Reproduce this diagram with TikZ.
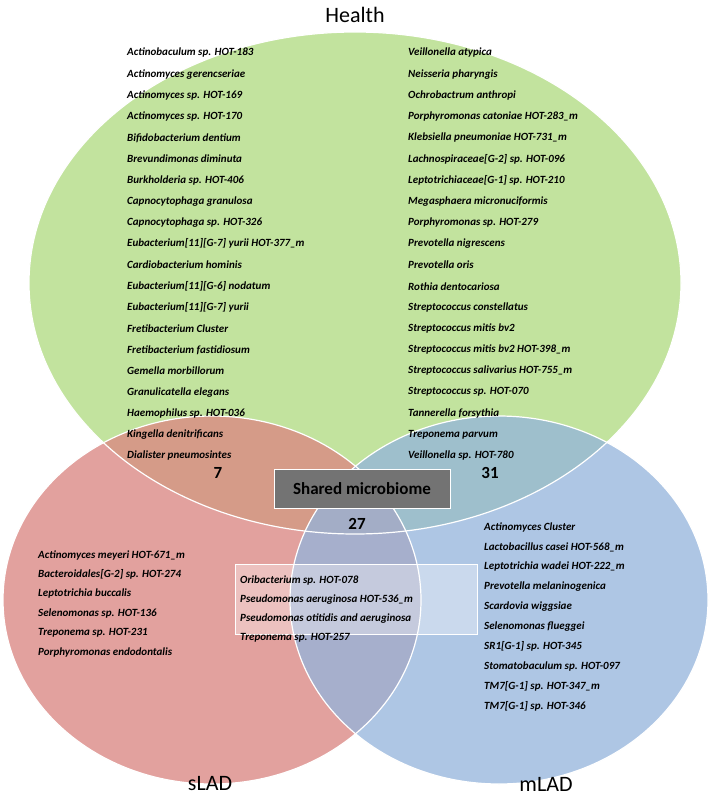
\documentclass[tikz,border=0pt]{standalone}
\usepackage{fontspec}
\setmainfont{Carlito}
\begin{document}
\begin{tikzpicture}[x=1pt,y=-1pt,
 sp/.style={font=\fontsize{11}{13}\selectfont\bfseries\itshape,anchor=west,inner sep=0},
 num/.style={font=\fontsize{17}{19}\selectfont\bfseries,inner sep=0},
 lab/.style={font=\fontsize{22}{24}\selectfont,inner sep=0}]
\definecolor{hg}{HTML}{C2E39E}
\definecolor{pinkc}{HTML}{DB8783}
\definecolor{mb}{HTML}{93B4DC}
\useasboundingbox (0,0) rectangle (709,800);
\fill[white] (0,0) rectangle (709,800);
\fill[hg] (355,283) ellipse [x radius=326,y radius=251];
\fill[pinkc,fill opacity=0.78] (212,600) ellipse [x radius=209,y radius=184];
\fill[mb,fill opacity=0.75] (499,600) ellipse [x radius=209,y radius=184];
\draw[white,line width=1.2pt] (355,283) ellipse [x radius=326,y radius=251];
\draw[white,line width=1.2pt] (212,600) ellipse [x radius=209,y radius=184];
\draw[white,line width=1.2pt] (499,600) ellipse [x radius=209,y radius=184];
\node[lab] (health) at (355,15) {Health};
\node[lab] (slad) at (210,784) {sLAD};
\node[lab] (mlad) at (546,784) {mLAD};
\foreach \t [count=\i from 0] in {Actinobaculum sp. HOT-183,Actinomyces gerencseriae,Actinomyces sp. HOT-169,Actinomyces sp. HOT-170,Bifidobacterium dentium,Brevundimonas diminuta,Burkholderia sp. HOT-406,Capnocytophaga granulosa,Capnocytophaga sp. HOT-326,Eubacterium[11][G-7] yurii HOT-377\_m,Cardiobacterium hominis,Eubacterium[11][G-6] nodatum,Eubacterium[11][G-7] yurii,Fretibacterium Cluster,Fretibacterium fastidiosum,Gemella morbillorum,Granulicatella elegans,Haemophilus sp. HOT-036,Kingella denitrificans,Dialister pneumosintes}
 \node[sp] (hl\i) at (127,53+21.2*\i) {\t};
\foreach \t [count=\i from 0] in {Veillonella atypica,Neisseria pharyngis,Ochrobactrum anthropi,Porphyromonas catoniae HOT-283\_m,Klebsiella pneumoniae HOT-731\_m,Lachnospiraceae[G-2] sp. HOT-096,Leptotrichiaceae[G-1] sp. HOT-210,Megasphaera micronuciformis,Porphyromonas sp. HOT-279,Prevotella nigrescens,Prevotella oris,Rothia dentocariosa,Streptococcus constellatus,Streptococcus mitis bv2,Streptococcus mitis bv2 HOT-398\_m,Streptococcus salivarius HOT-755\_m,Streptococcus sp. HOT-070,Tannerella forsythia,Treponema parvum,Veillonella sp. HOT-780}
 \node[sp] (hr\i) at (408,53+21.2*\i) {\t};
\foreach \t [count=\i from 0] in {Actinomyces meyeri HOT-671\_m,Bacteroidales[G-2] sp. HOT-274,Leptotrichia buccalis,Selenomonas sp. HOT-136,Treponema sp. HOT-231,Porphyromonas endodontalis}
 \node[sp] (s\i) at (38,555+19.4*\i) {\t};
\foreach \t [count=\i from 0] in {Actinomyces Cluster,Lactobacillus casei HOT-568\_m,Leptotrichia wadei HOT-222\_m,Prevotella melaninogenica,Scardovia wiggsiae,Selenomonas flueggei,SR1[G-1] sp. HOT-345,Stomatobaculum sp. HOT-097,TM7[G-1] sp. HOT-347\_m,TM7[G-1] sp. HOT-346}
 \node[sp] (m\i) at (484,527+19.9*\i) {\t};
\fill[white,fill opacity=0.35] (235,564) rectangle (477,634);
\draw[white,line width=0.8pt] (235,564) rectangle (477,634);
\foreach \t [count=\i from 0] in {Oribacterium sp. HOT-078,Pseudomonas aeruginosa HOT-536\_m,Pseudomonas otitidis and aeruginosa,Treponema sp. HOT-257}
 \node[sp] (c\i) at (240,580+19.3*\i) {\t};
\node[draw=white,fill=black!55,line width=0.8pt,minimum width=176pt,minimum height=39pt,inner sep=0,font=\fontsize{17}{19}\selectfont\bfseries,text=black] (shared) at (362,488.5) {Shared microbiome};
\node[num] (n7) at (218,473) {7};
\node[num] (n31) at (490,473) {31};
\node[num] (n27) at (357,524) {27};
\end{tikzpicture}
\end{document}
